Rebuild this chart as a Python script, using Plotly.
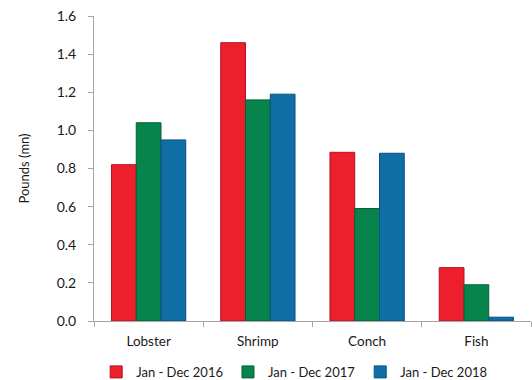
import plotly.graph_objects as go

categories = ["Lobster", "Shrimp", "Conch", "Fish"]
series_names = ["Jan - Dec 2016", "Jan - Dec 2017", "Jan - Dec 2018"]
values_2016 = [0.82, 1.46, 0.885, 0.28]
values_2017 = [1.04, 1.16, 0.59, 0.19]
values_2018 = [0.95, 1.19, 0.88, 0.02]
y_ticks = [0.0, 0.2, 0.4, 0.6, 0.8, 1.0, 1.2, 1.4, 1.6]

fills = ["#ED1F2D", "#07844B", "#0F6EA6"]
edges = ["#B3141F", "#05603A", "#0A5280"]

font_family = "Lato, 'Open Sans', sans-serif"

fig = go.Figure()
for name, vals, fc, ec in zip(series_names, [values_2016, values_2017, values_2018], fills, edges):
    fig.add_trace(go.Bar(
        x=categories, y=vals, name=name,
        marker=dict(color=fc, line=dict(color=ec, width=1)),
    ))

fig.update_layout(
    width=532, height=380,
    margin=dict(l=94, r=1, t=16, b=59, autoexpand=False),
    barmode="group", bargap=0.32, bargroupgap=0,
    plot_bgcolor="white", paper_bgcolor="white",
    font=dict(family=font_family, size=13, color="#1A1A1A"),
    showlegend=True,
    legend=dict(orientation="h", x=0.005, xanchor="left", y=-0.167, yanchor="middle",
                font=dict(size=13), itemwidth=30, tracegroupgap=0,
                bgcolor="rgba(0,0,0,0)"),
)
fig.update_xaxes(
    showline=True, linecolor="#A6A6A6", linewidth=1,
    ticks="outside", tickson="boundaries", ticklen=5, tickcolor="#A6A6A6",
    tickfont=dict(size=13.5), ticklabelstandoff=8, showgrid=False,
)
fig.update_yaxes(
    range=[0, 1.6], tickvals=y_ticks, tickformat=".1f",
    showline=True, linecolor="#A6A6A6", linewidth=1,
    ticks="outside", ticklen=5, tickcolor="#A6A6A6",
    tickfont=dict(size=14), ticklabelstandoff=9, showgrid=False, zeroline=False,
    title=dict(text="Pounds (mn)", font=dict(size=13), standoff=24),
)

fig.write_html("out.html")
